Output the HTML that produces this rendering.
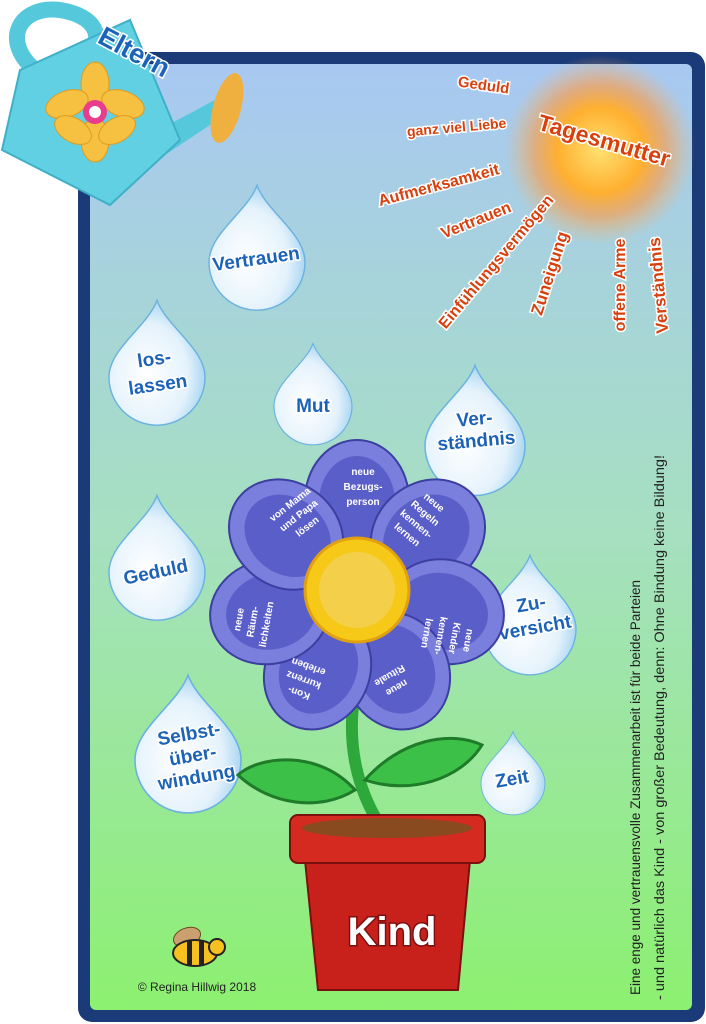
<!DOCTYPE html>
<html><head><meta charset="utf-8"><style>
html,body{margin:0;padding:0;background:#fff}
svg{display:block}
text{font-family:"Liberation Sans",sans-serif}
.d{fill:#1c63b8;font-weight:bold;font-size:19px;text-anchor:middle;stroke:#fff;stroke-width:3;paint-order:stroke}
.s{fill:#d8400e;font-weight:bold;stroke:#fff;stroke-width:3;paint-order:stroke;text-anchor:middle}
.p{fill:#fff;font-size:10px;text-anchor:middle;font-weight:bold}
</style></head><body>
<svg width="706" height="1024" viewBox="0 0 706 1024" xmlns="http://www.w3.org/2000/svg">
<defs>
<linearGradient id="bg" x1="0" y1="0" x2="0" y2="1">
<stop offset="0" stop-color="#a8c8f2"/><stop offset="0.5" stop-color="#a6e0c0"/><stop offset="1" stop-color="#8cf070"/></linearGradient>
<radialGradient id="sun"><stop offset="0" stop-color="#ffe070"/><stop offset="0.45" stop-color="#ffb030"/><stop offset="0.7" stop-color="#ff9a40" stop-opacity="0.6"/><stop offset="1" stop-color="#ffb060" stop-opacity="0"/></radialGradient>
<radialGradient id="drop" cx="0.4" cy="0.6" r="0.7"><stop offset="0" stop-color="#ffffff"/><stop offset="0.6" stop-color="#e4f2fc"/><stop offset="1" stop-color="#8cc8ec"/></radialGradient>
<path id="dp" d="M0,-1.45 C0.2,-0.9 1,-0.45 1,0.15 A1,1 0 0 1 -1,0.15 C-1,-0.45 -0.2,-0.9 0,-1.45Z"/>
</defs>
<rect x="78" y="52" width="627" height="970" rx="14" fill="#1b3a78"/>
<rect x="90" y="64" width="602" height="946" rx="6" fill="url(#bg)"/>
<!-- sun -->
<circle cx="600" cy="150" r="95" fill="url(#sun)"/>
<text class="s" font-size="23" transform="translate(602,148) rotate(16)">Tagesmutter</text>
<text class="s" font-size="15" transform="translate(483,90) rotate(8)">Geduld</text>
<text class="s" font-size="14" transform="translate(457,132) rotate(-5)">ganz viel Liebe</text>
<text class="s" font-size="16" transform="translate(440,190) rotate(-15)">Aufmerksamkeit</text>
<text class="s" font-size="16" transform="translate(478,225) rotate(-22)">Vertrauen</text>
<text class="s" font-size="16" transform="translate(500,265) rotate(-50)">Einfühlungsvermögen</text>
<text class="s" font-size="17" transform="translate(555,275) rotate(-72)">Zuneigung</text>
<text class="s" font-size="16" transform="translate(625,285) rotate(-90)">offene Arme</text>
<text class="s" font-size="17" transform="translate(664,285) rotate(-95)">Verständnis</text>
<!-- watering can -->
<g>
<path d="M35,70 C0,40 20,5 60,10 C90,15 100,30 95,45" fill="none" stroke="#56c8dc" stroke-width="16"/>
<path d="M140,140 L215,100 L225,115 L150,165Z" fill="#56c8dc"/>
<ellipse cx="227" cy="108" rx="14" ry="36" fill="#f0b040" transform="rotate(15 227 108)"/>
<path d="M20,70 L130,20 L180,140 L110,205 L2,150Z" fill="#60d0e2" stroke="#3fb0c8" stroke-width="2"/>
<text x="130" y="60" font-size="27" fill="#1c63b8" stroke="#fff" stroke-width="3" paint-order="stroke" font-weight="bold" text-anchor="middle" transform="rotate(28 130 60)">Eltern</text>
<g transform="translate(95,112)" fill="#f6c040" stroke="#e09a20">
<ellipse cx="0" cy="-28" rx="14" ry="22"/><ellipse cx="0" cy="28" rx="14" ry="22"/>
<ellipse cx="-28" cy="-8" rx="22" ry="13" transform="rotate(-20 -28 -8)"/><ellipse cx="28" cy="-8" rx="22" ry="13" transform="rotate(20 28 -8)"/>
<ellipse cx="-22" cy="18" rx="20" ry="12" transform="rotate(30 -22 18)"/><ellipse cx="22" cy="18" rx="20" ry="12" transform="rotate(-30 22 18)"/>
<circle r="12" fill="#e83c8c" stroke="none"/><circle r="6" fill="#fff" stroke="none"/></g>
</g>
<!-- drops -->
<g stroke="#6ab2e0" stroke-width="0.03" fill="url(#drop)">
<use href="#dp" transform="translate(257,255) scale(48)"/>
<use href="#dp" transform="translate(157,370) scale(48)"/>
<use href="#dp" transform="translate(313,400) scale(39)"/>
<use href="#dp" transform="translate(475,438) scale(50)"/>
<use href="#dp" transform="translate(157,565) scale(48)"/>
<use href="#dp" transform="translate(530,622) scale(46)"/>
<use href="#dp" transform="translate(188,752) scale(53)"/>
<use href="#dp" transform="translate(513,778) scale(32)"/>
</g>
<text class="d" transform="translate(257,265) rotate(-8)">Vertrauen</text>
<text class="d" transform="translate(155,365) rotate(-8)">los-<tspan x="0" dy="26">lassen</tspan></text>
<text class="d" x="313" y="412">Mut</text>
<text class="d" font-size="17" transform="translate(475,425) rotate(-5)">Ver-<tspan x="0" dy="22">ständnis</tspan></text>
<text class="d" transform="translate(157,578) rotate(-12)">Geduld</text>
<text class="d" font-size="17" transform="translate(532,610) rotate(-10)">Zu-<tspan x="0" dy="24">versicht</tspan></text>
<text class="d" transform="translate(190,740) rotate(-10)">Selbst-<tspan x="0" dy="22">über-</tspan><tspan x="0" dy="22">windung</tspan></text>
<text class="d" transform="translate(513,785) rotate(-10)">Zeit</text>
<!-- stem & leaves -->
<path d="M355,690 C345,750 360,800 390,840" fill="none" stroke="#2ea83a" stroke-width="12"/>
<path d="M355,790 C320,750 260,755 238,775 C270,805 320,812 355,790Z" fill="#3cc048" stroke="#1f7a2a" stroke-width="3"/>
<path d="M365,780 C400,740 450,730 482,745 C460,780 410,795 365,780Z" fill="#3cc048" stroke="#1f7a2a" stroke-width="3"/>
<!-- flower -->
<g transform="translate(357,590)" fill="#7a7edc" stroke="#3c3ea0" stroke-width="2">
<g><ellipse cx="0" cy="-90" rx="52" ry="60"/><ellipse cx="0" cy="-88" rx="38" ry="46" fill="#5a5ec8" stroke="none"/></g>
<g transform="rotate(52)"><ellipse cx="0" cy="-90" rx="52" ry="60"/><ellipse cx="0" cy="-88" rx="38" ry="46" fill="#5a5ec8" stroke="none"/></g>
<g transform="rotate(104)"><ellipse cx="0" cy="-90" rx="52" ry="60"/><ellipse cx="0" cy="-88" rx="38" ry="46" fill="#5a5ec8" stroke="none"/></g>
<g transform="rotate(154)"><ellipse cx="0" cy="-90" rx="52" ry="60"/><ellipse cx="0" cy="-88" rx="38" ry="46" fill="#5a5ec8" stroke="none"/></g>
<g transform="rotate(206)"><ellipse cx="0" cy="-90" rx="52" ry="60"/><ellipse cx="0" cy="-88" rx="38" ry="46" fill="#5a5ec8" stroke="none"/></g>
<g transform="rotate(256)"><ellipse cx="0" cy="-90" rx="52" ry="60"/><ellipse cx="0" cy="-88" rx="38" ry="46" fill="#5a5ec8" stroke="none"/></g>
<g transform="rotate(308)"><ellipse cx="0" cy="-90" rx="52" ry="60"/><ellipse cx="0" cy="-88" rx="38" ry="46" fill="#5a5ec8" stroke="none"/></g>
<circle r="52" fill="#f6c818" stroke="#e0a010" stroke-width="3"/>
<circle r="38" fill="#f4d04a" stroke="none"/>
</g>
<text class="p" x="363" y="475">neue<tspan x="363" dy="15">Bezugs-</tspan><tspan x="363" dy="15">person</tspan></text>
<text class="p" transform="translate(292,507) rotate(-38)">von Mama<tspan x="0" dy="14">und Papa</tspan><tspan x="0" dy="14">lösen</tspan></text>
<text class="p" transform="translate(432,505) rotate(40)">neue<tspan x="0" dy="14">Regeln</tspan><tspan x="0" dy="14">kennen-</tspan><tspan x="0" dy="14">lernen</tspan></text>
<text class="p" transform="translate(465,640) rotate(100)">neue<tspan x="0" dy="14">Kinder</tspan><tspan x="0" dy="14">kennen-</tspan><tspan x="0" dy="14">lernen</tspan></text>
<text class="p" transform="translate(395,685) rotate(150)">neue<tspan x="0" dy="14">Rituale</tspan></text>
<text class="p" transform="translate(300,690) rotate(200)">Kon-<tspan x="0" dy="14">kurrenz</tspan><tspan x="0" dy="14">erleben</tspan></text>
<text class="p" transform="translate(242,620) rotate(-80)">neue<tspan x="0" dy="14">Räum-</tspan><tspan x="0" dy="14">lichkeiten</tspan></text>
<!-- pot -->
<path d="M305,860 L470,860 L458,990 L318,990Z" fill="#c8201a" stroke="#7a1010" stroke-width="2"/>
<rect x="290" y="815" width="195" height="48" rx="8" fill="#d42a20" stroke="#7a1010" stroke-width="2"/>
<ellipse cx="387" cy="828" rx="85" ry="10" fill="#8a4a20"/>
<text x="392" y="945" font-size="40" font-weight="bold" fill="#fff" stroke="#7a1010" stroke-width="3" paint-order="stroke" text-anchor="middle">Kind</text>
<!-- bee -->
<g transform="translate(195,953)">
<ellipse cx="-8" cy="-16" rx="14" ry="9" fill="#caa070" stroke="#6a4a20" transform="rotate(-20 -8 -16)"/>
<ellipse cx="0" cy="0" rx="22" ry="13" fill="#f6c020" stroke="#222" stroke-width="2"/>
<rect x="-8" y="-12" width="5" height="24" fill="#222"/><rect x="4" y="-12" width="5" height="24" fill="#222"/>
<circle cx="22" cy="-6" r="8" fill="#f6c020" stroke="#222" stroke-width="2"/>
</g>
<text x="197" y="991" font-size="12" fill="#222" text-anchor="middle">© Regina Hillwig 2018</text>
<!-- vertical text -->
<text font-size="13.5" fill="#222" transform="translate(640,995) rotate(-90)">Eine enge und vertrauensvolle Zusammenarbeit ist für beide Parteien</text>
<text font-size="14" fill="#222" transform="translate(664,1000) rotate(-90)" textLength="545" lengthAdjust="spacingAndGlyphs">- und natürlich das Kind - von großer Bedeutung, denn: Ohne Bindung keine Bildung!</text>
</svg>
</body></html>
